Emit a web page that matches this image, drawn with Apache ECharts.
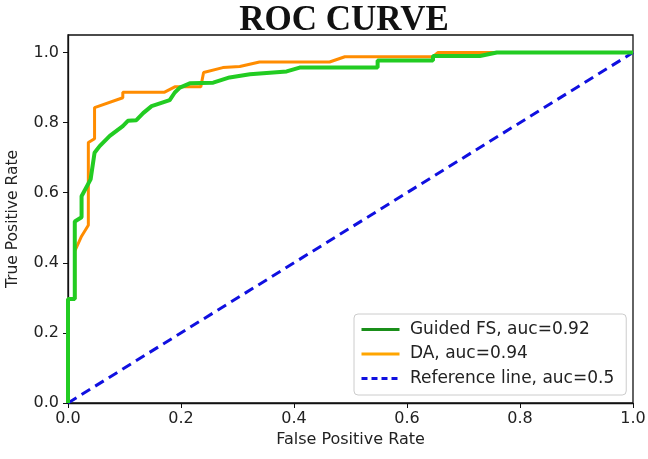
<!DOCTYPE html>
<html><head><meta charset="utf-8">
<script src="https://cdn.jsdelivr.net/npm/echarts@6/dist/echarts.min.js"></script>
<style>html,body{margin:0;padding:0;background:#fff}#c{width:648px;height:459px}</style>
</head><body><div id="c"></div>
<script>
const titleText = 'ROC CURVE';
const xAxisTitle = 'False Positive Rate';
const yAxisTitle = 'True Positive Rate';
const tickValues = [0, 0.2, 0.4, 0.6, 0.8, 1.0];
const seriesNames = ['Guided FS, auc=0.92', 'DA, auc=0.94', 'Reference line, auc=0.5'];
const guidedFS = [[0,0],[0,0.297],[0.012,0.297],[0.012,0.518],[0.024,0.53],[0.024,0.59],[0.04,0.638],[0.047,0.714],[0.056,0.733],[0.074,0.762],[0.097,0.79],[0.106,0.805],[0.121,0.807],[0.133,0.827],[0.148,0.847],[0.18,0.864],[0.189,0.886],[0.198,0.9],[0.2155,0.912],[0.257,0.914],[0.286,0.929],[0.322,0.938],[0.387,0.946],[0.41,0.957],[0.548,0.957],[0.548,0.977],[0.646,0.977],[0.646,0.99],[0.729,0.99],[0.759,1.0],[1,1]];
const da = [[0,0],[0,0.297],[0.012,0.297],[0.012,0.433],[0.024,0.476],[0.036,0.507],[0.036,0.743],[0.047,0.754],[0.047,0.843],[0.097,0.871],[0.097,0.887],[0.171,0.887],[0.189,0.902],[0.235,0.902],[0.24,0.943],[0.274,0.957],[0.304,0.96],[0.339,0.973],[0.463,0.973],[0.49,0.988],[0.646,0.988],[0.655,1.0],[1,1]];
const referenceLine = [[0,0],[1,1]];

const chart = echarts.init(document.getElementById('c'), null, {renderer:'canvas'});
const font = 'DejaVu Sans';
chart.setOption({
  backgroundColor:'#fff',
  animation:false,
  title:{text:titleText, left:339, top:-2, textAlign:'center',
    textStyle:{fontFamily:'Liberation Serif', fontWeight:'bold', fontSize:35, color:'#111'}},
  grid:{left:68, right:15, top:35, bottom:56, show:true, borderColor:'#111', borderWidth:1.3,
    backgroundColor:'#fff', outerBoundsMode:'none', containLabel:false},
  legend:{orient:'vertical', left:354, top:314, itemWidth:38, itemHeight:14, itemGap:7.5,
    padding:[7,12,8,6], borderColor:'#ccc', borderWidth:1, borderRadius:4, backgroundColor:'#fff',
    textStyle:{fontFamily:font, fontSize:17, color:'#222'},
    formatter:name=>' ' + name,
    data:[
      {name:seriesNames[0], itemStyle:{opacity:0}, lineStyle:{color:'#1a8f1a', width:3}},
      {name:seriesNames[1], itemStyle:{opacity:0}, lineStyle:{color:'#ffa500', width:3}},
      {name:seriesNames[2], itemStyle:{opacity:0}, lineStyle:{color:'#1010e0', width:3, type:[6,4]}}
    ]},
  xAxis:{type:'value', min:0, max:1, name:xAxisTitle, nameLocation:'middle', nameGap:28,
    nameTextStyle:{fontFamily:font, fontSize:16, color:'#222'},
    axisLine:{show:true, onZero:false, lineStyle:{color:'#111', width:1.3}},
    axisTick:{show:true, length:5, customValues:tickValues, lineStyle:{color:'#111'}},
    axisLabel:{customValues:tickValues, fontFamily:font, fontSize:16, color:'#222', margin:8,
      formatter:v=>v.toFixed(1)},
    splitLine:{show:false}},
  yAxis:{type:'value', min:0, max:1.05, name:yAxisTitle, nameLocation:'middle', nameGap:47, nameRotate:90,
    nameTextStyle:{fontFamily:font, fontSize:15.5, color:'#222'},
    axisLine:{show:true, onZero:false, lineStyle:{color:'#111', width:1.3}},
    axisTick:{show:true, length:5, customValues:tickValues, lineStyle:{color:'#111'}},
    axisLabel:{customValues:tickValues, fontFamily:font, fontSize:16, color:'#222', margin:9,
      formatter:v=>v.toFixed(1)},
    splitLine:{show:false}},
  series:[
    {name:seriesNames[0], type:'line', data:guidedFS, symbol:'none', z:4,
      lineStyle:{color:'#22cc22', width:4}, itemStyle:{color:'#1a8f1a'}},
    {name:seriesNames[1], type:'line', data:da, symbol:'none', z:3,
      lineStyle:{color:'#ff8c00', width:3}, itemStyle:{color:'#ffa500'}},
    {name:seriesNames[2], type:'line', data:referenceLine, symbol:'none', z:2,
      lineStyle:{color:'#1010e0', width:3, type:[10,6]}, itemStyle:{color:'#1010e0'}}
  ]
});
</script></body></html>
